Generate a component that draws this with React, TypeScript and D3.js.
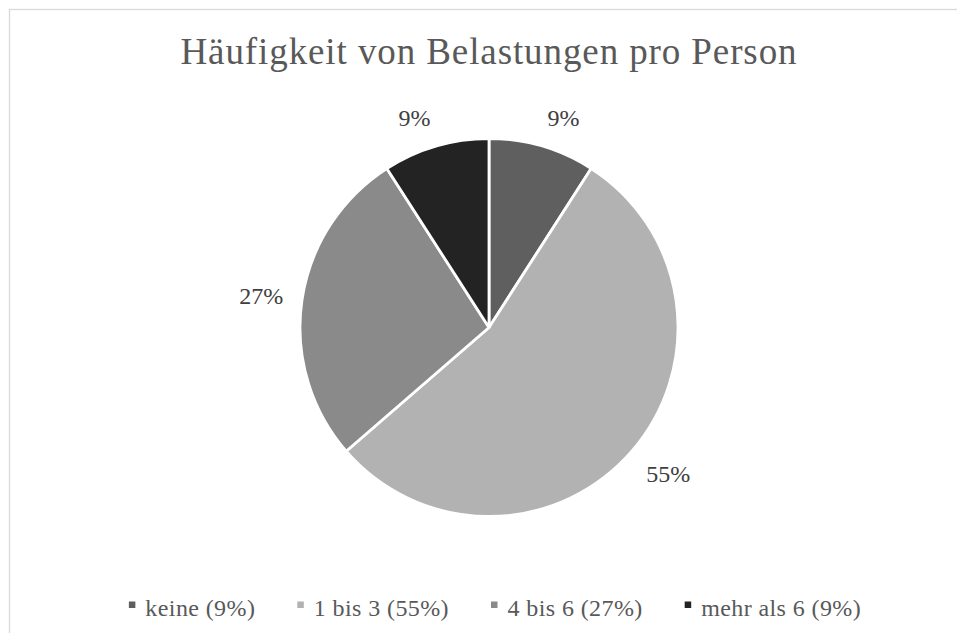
import React, { useEffect, useRef } from "react";
import * as d3 from "d3";

const categories = ["keine", "1 bis 3", "4 bis 6", "mehr als 6"];
const counts = [1, 6, 3, 1];
const percentLabels = ["9%", "55%", "27%", "9%"];
const colors = ["#5f5f5f", "#b2b2b2", "#8a8a8a", "#232323"];
const title = "Häufigkeit von Belastungen pro Person";

const W = 957;
const H = 633;
const FONT = "'Liberation Serif', 'Times New Roman', serif";

export default function App() {
  const ref = useRef<SVGSVGElement | null>(null);

  useEffect(() => {
    const svg = d3.select(ref.current);
    svg.selectAll("*").remove();

    // chart border
    svg
      .append("rect")
      .attr("x", 9.5)
      .attr("y", 9.5)
      .attr("width", 960)
      .attr("height", 660)
      .attr("fill", "#ffffff")
      .attr("stroke", "#d9d9d9")
      .attr("stroke-width", 1.3);

    const cx = 489;
    const cy = 327.5;
    const r = 189;

    svg
      .append("text")
      .attr("x", cx)
      .attr("y", 64)
      .attr("text-anchor", "middle")
      .attr("font-family", FONT)
      .attr("font-size", 37)
      .attr("letter-spacing", 0.9)
      .attr("fill", "#595959")
      .text(title);

    const pie = d3.pie<number>().sort(null).value((d) => d);
    const arcs = pie(counts);
    const arc = d3.arc<d3.PieArcDatum<number>>().innerRadius(0).outerRadius(r);

    const g = svg.append("g").attr("transform", `translate(${cx},${cy})`);
    g.selectAll("path")
      .data(arcs)
      .join("path")
      .attr("d", arc)
      .attr("fill", (_, i) => colors[i])
      .attr("stroke", "#ffffff")
      .attr("stroke-width", 2.8)
      .attr("stroke-linejoin", "round");

    // data labels: outside end
    const gap = 19;
    arcs.forEach((a, i) => {
      const mid = (a.startAngle + a.endAngle) / 2;
      const dx = Math.sin(mid);
      const dy = -Math.cos(mid);
      const ax = (r + gap) * dx;
      const ay = (r + gap) * dy;
      const t = g
        .append("text")
        .attr("font-family", FONT)
        .attr("font-size", 24)
        .attr("fill", "#404040")
        .attr("text-anchor", "middle")
        .text(percentLabels[i]);
      const w = (t.node() as SVGTextElement).getComputedTextLength();
      const h = 20;
      const ox = Math.max(-1, Math.min(1, dx * 4)) * (w / 2);
      const oy = Math.max(-1, Math.min(1, dy * 1.5)) * (h / 2);
      t.attr("x", ax + ox).attr("y", ay + oy + 8.5);
    });

    // legend
    const legend = svg.append("g");
    const items = categories.map((c, i) => `${c} (${percentLabels[i]})`);
    const marker = 6.5;
    const mgap = 10;
    const spacing = 42;
    const baseline = 615.5;
    let x = 0;
    const nodes: { g: any; w: number }[] = [];
    items.forEach((txt, i) => {
      const ig = legend.append("g");
      ig.append("rect")
        .attr("x", 0)
        .attr("y", baseline - 14)
        .attr("width", marker)
        .attr("height", marker)
        .attr("fill", colors[i]);
      const t = ig
        .append("text")
        .attr("x", marker + mgap)
        .attr("y", baseline)
        .attr("font-family", FONT)
        .attr("font-size", 24)
        .attr("letter-spacing", 0.4)
        .attr("fill", "#595959")
        .text(txt);
      const w = (t.node() as SVGTextElement).getComputedTextLength();
      nodes.push({ g: ig, w });
    });
    const total = nodes.reduce((s, n, i) => s + marker + mgap + n.w + (i < nodes.length - 1 ? spacing : 0), 0);
    x = 495 - total / 2;
    nodes.forEach((n) => {
      n.g.attr("transform", `translate(${x},0)`);
      x += marker + mgap + n.w + spacing;
    });
  }, []);

  return (
    <svg
      ref={ref}
      width={W}
      height={H}
      style={{ position: "absolute", left: 0, top: 0, display: "block", background: "#ffffff" }}
    />
  );
}
